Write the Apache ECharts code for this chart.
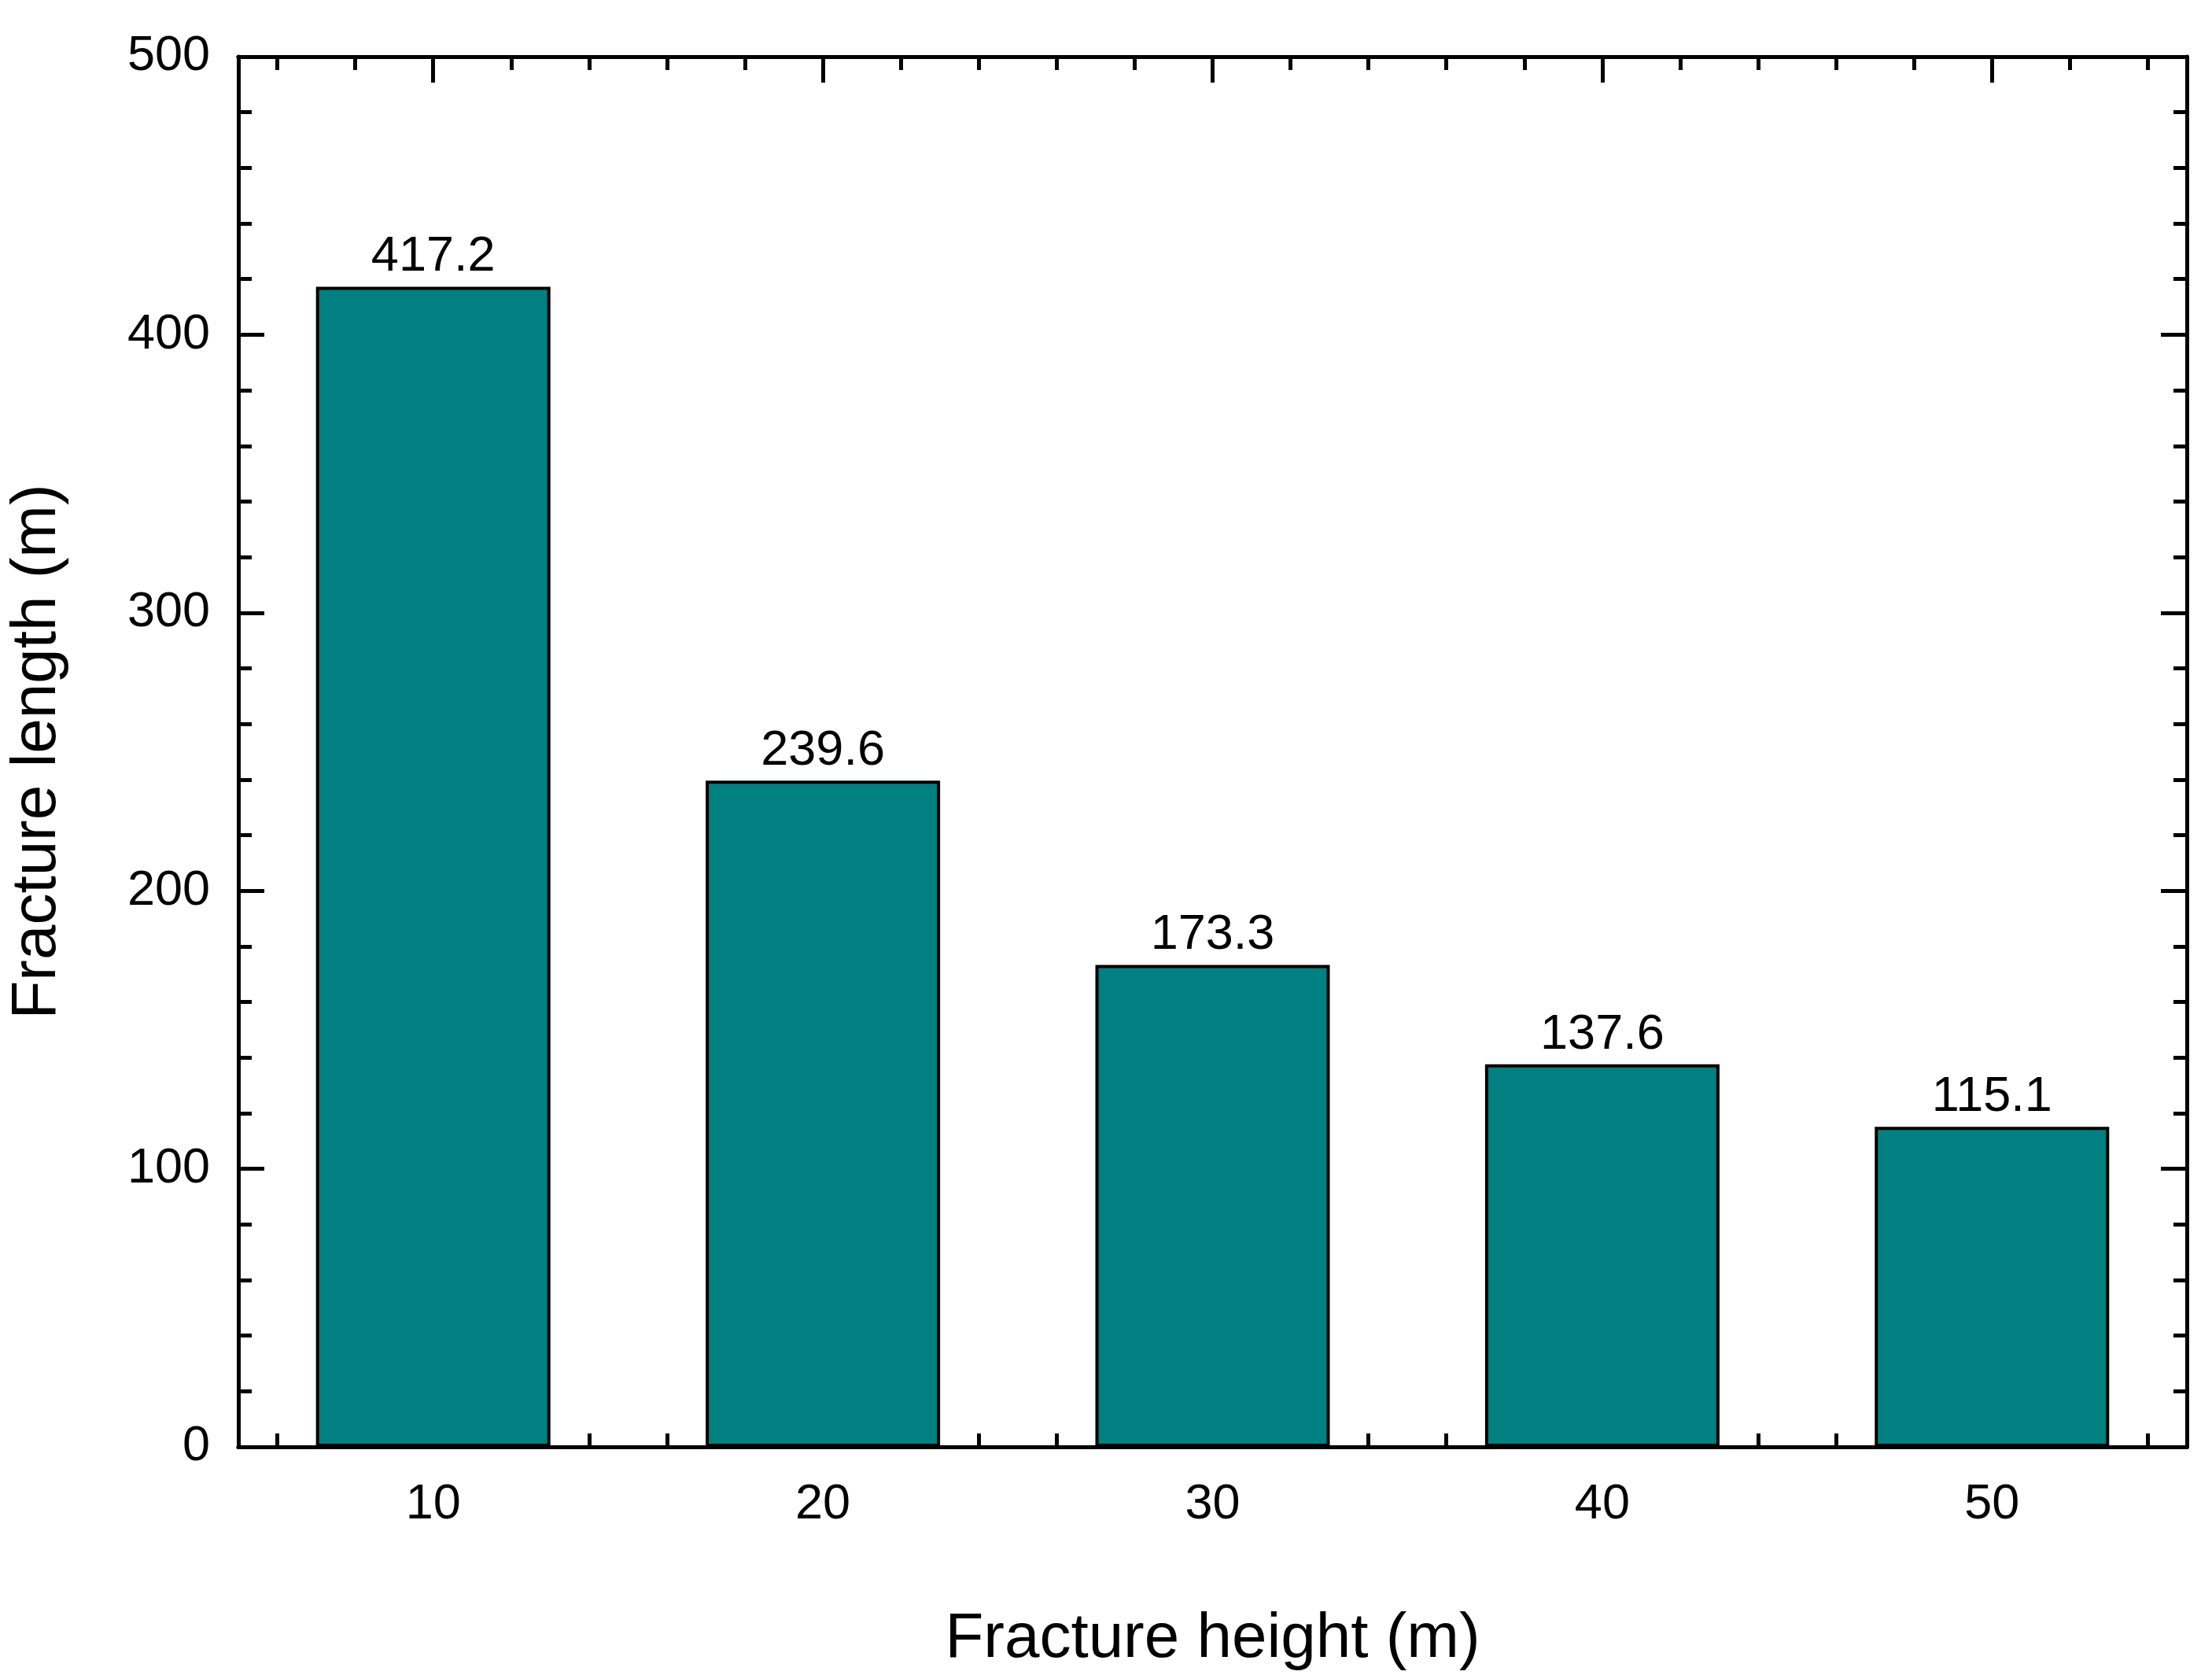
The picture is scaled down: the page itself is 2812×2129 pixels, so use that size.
<!DOCTYPE html>
<html>
<head>
<meta charset="utf-8">
<script src="https://cdn.jsdelivr.net/npm/echarts@6/dist/echarts.min.js"></script>
<style>html,body{margin:0;padding:0;background:#fff}#c{width:2812px;height:2129px}</style>
</head>
<body>
<div id="c"></div>
<script>
// data
const heights = [10, 20, 30, 40, 50];
const lengths = [417.2, 239.6, 173.3, 137.6, 115.1];
const xMajor = [10, 20, 30, 40, 50];
const xMinor = [6, 8, 12, 14, 16, 18, 22, 24, 26, 28, 32, 34, 36, 38, 42, 44, 46, 48, 52, 54];

const FONT = 'Liberation Sans';
const LINE = { lineStyle: { color: '#000', width: 5 } };

function xAx(pos, ticks, len, labels) {
  return {
    type: 'value', position: pos, min: 5, max: 55,
    axisLine: { show: true, onZero: false, ...LINE },
    axisTick: { show: true, inside: true, length: len, customValues: ticks, lineStyle: { color: '#000', width: 5 } },
    axisLabel: labels ? { show: true, customValues: ticks, color: '#000', fontSize: 63, fontFamily: FONT, margin: 42 } : { show: false },
    splitLine: { show: false }
  };
}
function yAx(pos, labels) {
  return {
    type: 'value', position: pos, min: 0, max: 500, interval: 100,
    axisLine: { show: true, onZero: false, ...LINE },
    axisTick: { show: true, inside: true, length: 33, lineStyle: { color: '#000', width: 5 } },
    minorTick: { show: true, splitNumber: 5, length: 17, lineStyle: { color: '#000', width: 5 } },
    axisLabel: labels ? { show: true, color: '#000', fontSize: 63, fontFamily: FONT, margin: 36 } : { show: false },
    splitLine: { show: false }
  };
}

const chart = echarts.init(document.getElementById('c'), null, { renderer: 'canvas' });
const xs = [xAx('bottom', xMajor, 33, true), xAx('bottom', xMinor, 17, false), xAx('top', xMajor, 33, false), xAx('top', xMinor, 17, false)];
xs[0].name = 'Fracture height (m)';
xs[0].nameLocation = 'middle';
xs[0].nameGap = 205;
xs[0].nameTextStyle = { color: '#000', fontSize: 80, fontFamily: FONT };
const ys = [yAx('left', true), yAx('right', false)];
ys[0].name = 'Fracture length (m)';
ys[0].nameLocation = 'middle';
ys[0].nameGap = 215;
ys[0].nameTextStyle = { color: '#000', fontSize: 80, fontFamily: FONT };

chart.setOption({
  backgroundColor: '#fff',
  animation: false,
  grid: { left: 299, right: 32, top: 72, bottom: 284 },
  xAxis: xs,
  yAxis: ys,
  series: [{
    type: 'bar', xAxisIndex: 0, yAxisIndex: 0,
    data: heights.map((h, i) => [h, lengths[i]]),
    barWidth: 298,
    itemStyle: { color: '#008080', borderColor: '#000', borderWidth: 4 },
    label: { show: true, position: 'top', distance: 6, color: '#000', fontSize: 63, fontFamily: FONT, formatter: p => p.value[1].toFixed(1) }
  }]
});
</script>
</body>
</html>
